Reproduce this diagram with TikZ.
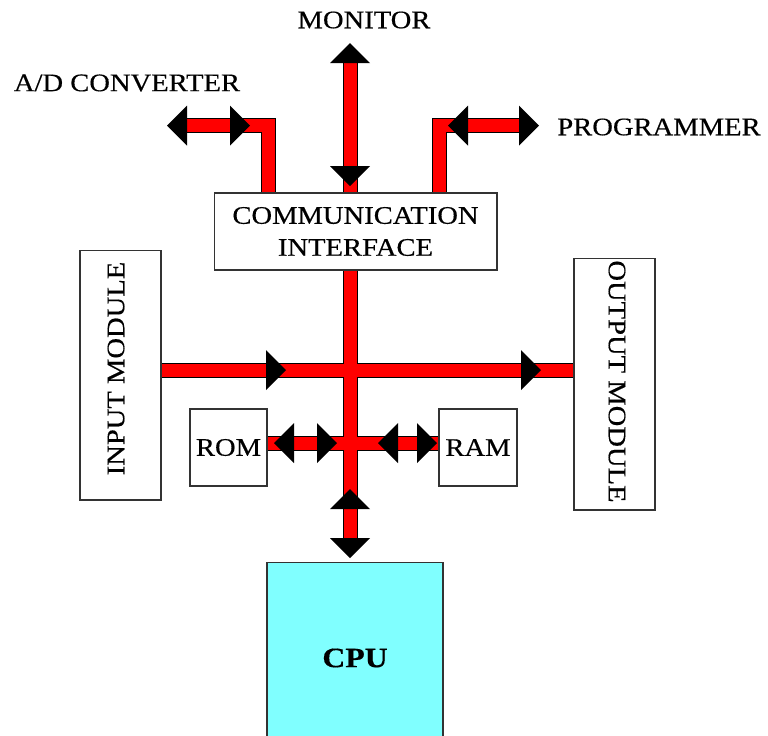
\documentclass[tikz,border=0pt]{standalone}
\usepackage{fontspec}
\setmainfont{Liberation Serif}[FakeStretch=1.13,FakeBold=0.4]
\usetikzlibrary{backgrounds}
\definecolor{cpucyan}{RGB}{128,255,255}
\tikzset{
  box/.style={draw=black!80, line width=0.6pt, fill=white, inner sep=0pt,
    align=center, font=\fontsize{14.4}{18.2}\selectfont},
  lbl/.style={inner sep=0pt, font=\fontsize{14.4}{18.2}\selectfont},
  head/.pic={\fill (0,-20) -- (20,0) -- (0,20) -- cycle;}
}
\begin{document}
\begin{tikzpicture}[x=0.02cm,y=-0.02cm,line join=miter]
  \useasboundingbox (0,0) rectangle (768,735);
  % labels
  \node[lbl] (monitor) at (364,20) {MONITOR};
  \node[lbl] (adc) at (127,83) {A/D CONVERTER};
  \node[lbl] (prog) at (659,127) {PROGRAMMER};
  % boxes
  \node[box, minimum width=5.66cm, minimum height=1.54cm] (comm) at (355.5,231.5)
    {COMMUNICATION\\INTERFACE};
  \node[box, minimum width=1.62cm, minimum height=5cm] (input) at (120.5,375) {};
  \node[rotate=90, lbl] (intext) at (116,368.5) {INPUT MODULE};
  \node[box, minimum width=1.62cm, minimum height=5.04cm] (output) at (614.5,384) {};
  \node[rotate=-90, lbl] (outtext) at (617,381.5) {OUTPUT MODULE};
  \node[box, minimum width=1.54cm, minimum height=1.54cm] (rom) at (228.5,447.5) {ROM};
  \node[box, minimum width=1.56cm, minimum height=1.54cm] (ram) at (478,447.5) {RAM};
  \node[box, fill=cpucyan, minimum width=3.52cm, minimum height=3.84cm,
    font=\fontsize{16}{18}\selectfont\bfseries] (cpu) at (355,658) {CPU};
  % bus points
  \coordinate (mtop) at (350,55);
  \coordinate (adl) at (180,125.5);
  \coordinate (adk) at (268,125.5);
  \coordinate (pgr) at (530,125.5);
  \coordinate (pgk) at (439,125.5);
  \coordinate (hbus) at (350,370);
  \coordinate (mbus) at (350,443);
  \coordinate (cbot) at (350,550);
  \begin{scope}[on background layer]
    \foreach \w/\c in {0.3cm/black, 0.26cm/red}
      \draw[line width=\w, \c] (mtop) -- (mtop |- comm.north)
        (adl) -- (adk) -- (adk |- comm.north)
        (pgr) -- (pgk) -- (pgk |- comm.north)
        (comm.south -| mtop) -- (cbot)
        (input.east |- hbus) -- (output.west |- hbus)
        (rom.east |- mbus) -- (ram.west |- mbus);
  \end{scope}
  % arrow heads
  \foreach \x/\y/\a in {350/63/90, 350/166/-90, 187/125.5/180, 230/125.5/0,
    468/125.5/180, 519/125.5/0, 266/370/0, 521/370/0, 294/443/180, 317/443/0,
    398/443/180, 417/443/0, 350/509/90, 350/538/-90}
    \pic[rotate=\a] at (\x,\y) {head};
\end{tikzpicture}
\end{document}
